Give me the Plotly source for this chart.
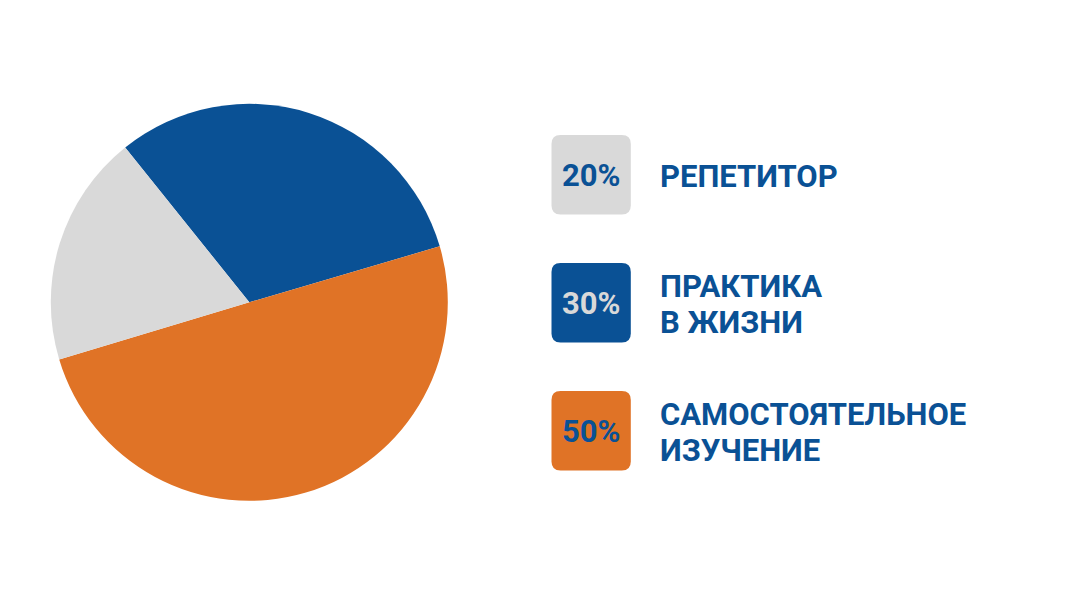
import plotly.graph_objects as go

# ---- data ----
categories = ["ПРАКТИКА\nВ ЖИЗНИ", "САМОСТОЯТЕЛЬНОЕ\nИЗУЧЕНИЕ", "РЕПЕТИТОР"]
slice_values = [31.2, 49.9, 18.9]          # as drawn in the pie
legend_order = ["РЕПЕТИТОР", "ПРАКТИКА\nВ ЖИЗНИ", "САМОСТОЯТЕЛЬНОЕ\nИЗУЧЕНИЕ"]
legend_percent = ["20%", "30%", "50%"]

# ---- style ----
W, H = 1080, 609
OFF = 8  # page body margin
BLUE = "#0A5195"
ORANGE = "#E07326"
GRAY = "#D9D9D9"
slice_colors = {"РЕПЕТИТОР": GRAY, "ПРАКТИКА\nВ ЖИЗНИ": BLUE, "САМОСТОЯТЕЛЬНОЕ\nИЗУЧЕНИЕ": ORANGE}
pct_colors = {"РЕПЕТИТОР": BLUE, "ПРАКТИКА\nВ ЖИЗНИ": GRAY, "САМОСТОЯТЕЛЬНОЕ\nИЗУЧЕНИЕ": BLUE}
FONT = "Roboto"


def px(x):
    return (x - OFF) / W


def py(y):
    return 1 - (y - OFF) / H


fig = go.Figure()

cx, cy, r = 249.3, 302.3, 198.5
fig.add_trace(go.Pie(
    labels=categories,
    values=slice_values,
    marker=dict(colors=[slice_colors[c] for c in categories], line=dict(width=0)),
    sort=False,
    direction="clockwise",
    rotation=321.3,
    textinfo="none",
    hoverinfo="label+percent",
    showlegend=False,
    domain=dict(x=[px(cx - r), px(cx + r)], y=[py(cy + r), py(cy - r)]),
))

shapes = []
annotations = []
box_x0, box_x1 = 551.5, 630.8
box_tops = [135, 263, 391]
box_h = 79.5
rad = 9
text_x = 658
for i, cat in enumerate(legend_order):
    y0 = box_tops[i]
    y1 = y0 + box_h
    x0, x1 = box_x0, box_x1
    path = (
        f"M {px(x0 + rad)},{py(y0)} L {px(x1 - rad)},{py(y0)} "
        f"Q {px(x1)},{py(y0)} {px(x1)},{py(y0 + rad)} "
        f"L {px(x1)},{py(y1 - rad)} Q {px(x1)},{py(y1)} {px(x1 - rad)},{py(y1)} "
        f"L {px(x0 + rad)},{py(y1)} Q {px(x0)},{py(y1)} {px(x0)},{py(y1 - rad)} "
        f"L {px(x0)},{py(y0 + rad)} Q {px(x0)},{py(y0)} {px(x0 + rad)},{py(y0)} Z"
    )
    shapes.append(dict(type="path", xref="paper", yref="paper", path=path,
                       fillcolor=slice_colors[cat], line=dict(width=0), layer="above"))
    ymid = (y0 + y1) / 2
    annotations.append(dict(
        x=px((x0 + x1) / 2), y=py(ymid + 1), xref="paper", yref="paper",
        text=f"<b>{legend_percent[i]}</b>", showarrow=False,
        xanchor="center", yanchor="middle",
        font=dict(family=FONT, size=31, color=pct_colors[cat]),
    ))
    lines = cat.split("\n")
    n = len(lines)
    for j, line in enumerate(lines):
        ly = ymid + (j - (n - 1) / 2) * 36 + 2
        annotations.append(dict(
            x=px(text_x), y=py(ly), xref="paper", yref="paper",
            text=f"<b>{line}</b>", showarrow=False,
            xanchor="left", yanchor="middle",
            font=dict(family=FONT, size=31, color=BLUE),
        ))

fig.update_layout(
    width=W, height=H,
    margin=dict(l=0, r=0, t=0, b=0),
    paper_bgcolor="white", plot_bgcolor="white",
    shapes=shapes, annotations=annotations,
    showlegend=False,
)

fig.write_html("out.html")
